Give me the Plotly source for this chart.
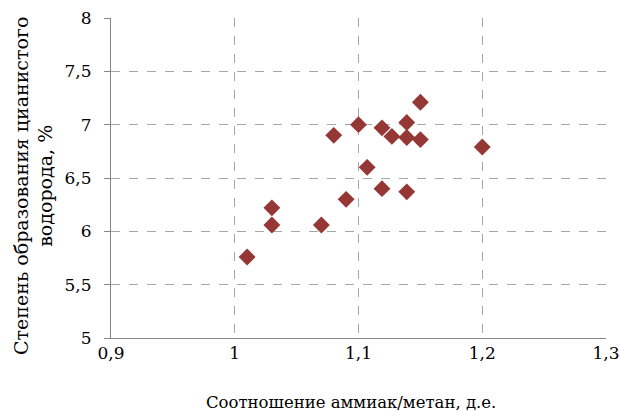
import plotly.graph_objects as go

ratio = [1.010, 1.030, 1.030, 1.070, 1.090, 1.080, 1.100, 1.107, 1.119, 1.119,
         1.127, 1.139, 1.139, 1.139, 1.150, 1.150, 1.200]
hcn = [5.76, 6.22, 6.06, 6.06, 6.30, 6.90, 7.00, 6.60, 6.97, 6.40,
       6.89, 7.02, 6.88, 6.37, 7.21, 6.86, 6.79]

x_ticks = [0.9, 1.0, 1.1, 1.2, 1.3]
x_labels = ["0,9", "1", "1,1", "1,2", "1,3"]
y_ticks = [5, 5.5, 6, 6.5, 7, 7.5, 8]
y_labels = ["5", "5,5", "6", "6,5", "7", "7,5", "8"]

x_title = "Соотношение аммиак/метан, д.е."
y_title = "Степень образования цианистого<br>водорода, %"

font = "DejaVu Serif"

fig = go.Figure(go.Scatter(
    x=ratio, y=hcn, mode="markers",
    marker=dict(symbol="diamond", size=13, color="#953735",
                line=dict(width=0)),
))

fig.update_layout(
    width=620, height=412,
    margin=dict(l=111, r=14, t=18, b=74),
    paper_bgcolor="white", plot_bgcolor="white",
    showlegend=False,
    font=dict(family=font, size=17, color="#000000"),
    xaxis=dict(
        range=[0.9, 1.3], tickvals=x_ticks, ticktext=x_labels,
        showgrid=True, gridcolor="#a6a6a6", griddash="dash", gridwidth=1,
        showline=True, linecolor="#868686", linewidth=1,
        ticks="", ticklabelstandoff=0,
        zeroline=False, automargin=False,
    ),
    yaxis=dict(
        range=[5, 8], tickvals=y_ticks, ticktext=y_labels,
        showgrid=True, gridcolor="#a6a6a6", griddash="dash", gridwidth=1,
        showline=True, linecolor="#868686", linewidth=1,
        ticks="outside", ticklen=6, tickcolor="#868686",
        ticklabelstandoff=9,
        zeroline=False, automargin=False,
    ),
    annotations=[
        dict(text=x_title, xref="paper", yref="paper", x=0.484, y=-0.20,
             xanchor="center", yanchor="middle", showarrow=False,
             font=dict(family=font, size=16.5)),
        dict(text=y_title, xref="paper", yref="paper", x=-0.157, y=0.476,
             xanchor="center", yanchor="middle", showarrow=False,
             textangle=-90, font=dict(family=font, size=19)),
    ],
)

fig.write_html("out.html", config={"displayModeBar": False},
               post_script="document.body.style.margin='0';document.body.style.padding='0';")
